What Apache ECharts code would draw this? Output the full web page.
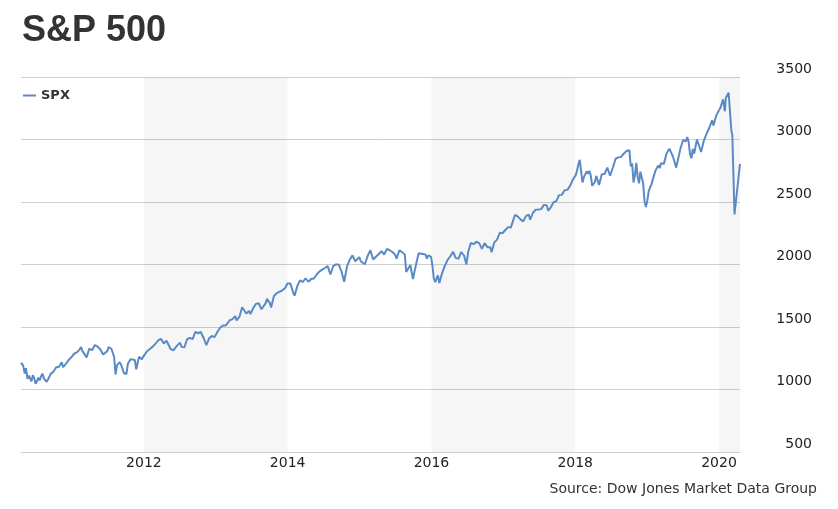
<!DOCTYPE html>
<html><head><meta charset="utf-8">
<script src="https://cdn.jsdelivr.net/npm/echarts@6/dist/echarts.min.js"></script>
<style>html,body{margin:0;padding:0;background:#fff}#c{width:838px;height:509px}</style>
</head><body><div id="c"></div>
<script>
const chartTitle = 'S&P 500';
const seriesName = 'SPX';
const sourceNote = 'Source: Dow Jones Market Data Group';
const rangeStart = '2010-04-17';
const rangeEnd = '2020-04-17';
const xLabelYears = [2012, 2014, 2016, 2018, 2020];
const shadedBands = [[2012, 2014], [2016, 2018], [2020, null]];

const dates = [
 '2010-04-17','2010-04-28','2010-05-06','2010-05-12','2010-05-20','2010-05-27','2010-06-02','2010-06-09','2010-06-16','2010-06-23','2010-06-30','2010-07-07','2010-07-14','2010-07-21','2010-07-28','2010-08-04','2010-08-11','2010-08-18','2010-08-25','2010-09-01','2010-09-15','2010-09-29','2010-10-13','2010-10-27','2010-11-10','2010-11-17','2010-12-01','2010-12-15','2010-12-29',
 '2011-01-12','2011-01-26','2011-02-09','2011-02-16','2011-02-23','2011-03-02','2011-03-16','2011-03-30','2011-04-13','2011-04-27','2011-05-11','2011-05-25','2011-06-08','2011-06-15','2011-06-29','2011-07-06','2011-07-20','2011-08-03','2011-08-10','2011-08-17','2011-08-24','2011-08-31','2011-09-07','2011-09-22','2011-10-04','2011-10-12','2011-10-26','2011-11-02','2011-11-16','2011-11-23','2011-12-07','2011-12-21',
 '2012-01-04','2012-01-18','2012-02-01','2012-02-15','2012-02-29','2012-03-14','2012-03-28','2012-04-11','2012-04-25','2012-05-02','2012-05-16','2012-05-30','2012-06-06','2012-06-20','2012-07-03','2012-07-11','2012-07-25','2012-08-08','2012-08-22','2012-09-05','2012-09-19','2012-10-03','2012-10-17','2012-10-31','2012-11-14','2012-11-28','2012-12-12','2012-12-26',
 '2013-01-09','2013-01-23','2013-02-06','2013-02-20','2013-03-13','2013-03-27','2013-04-10','2013-04-17','2013-05-01','2013-05-15','2013-05-22','2013-06-05','2013-06-19','2013-06-26','2013-07-10','2013-07-24','2013-08-07','2013-08-21','2013-08-28','2013-09-11','2013-09-18','2013-10-02','2013-10-09','2013-10-23','2013-11-06','2013-11-20','2013-12-04','2013-12-18','2013-12-31',
 '2014-01-15','2014-01-29','2014-02-05','2014-02-19','2014-03-05','2014-03-19','2014-04-02','2014-04-16','2014-04-30','2014-05-14','2014-05-28','2014-06-11','2014-06-25','2014-07-09','2014-07-23','2014-08-06','2014-08-20','2014-09-03','2014-09-17','2014-10-01','2014-10-15','2014-10-29','2014-11-12','2014-11-26','2014-12-10','2014-12-17','2014-12-31',
 '2015-01-07','2015-01-14','2015-01-28','2015-02-11','2015-02-25','2015-03-11','2015-03-25','2015-04-08','2015-04-22','2015-05-06','2015-05-20','2015-06-03','2015-06-17','2015-07-01','2015-07-08','2015-07-22','2015-08-05','2015-08-19','2015-08-26','2015-09-02','2015-09-16','2015-09-29','2015-10-14','2015-10-28','2015-11-04','2015-11-18','2015-12-02','2015-12-09','2015-12-16','2015-12-30',
 '2016-01-06','2016-01-13','2016-01-20','2016-02-03','2016-02-10','2016-02-24','2016-03-09','2016-03-23','2016-04-06','2016-04-20','2016-05-04','2016-05-18','2016-06-01','2016-06-15','2016-06-27','2016-07-06','2016-07-20','2016-08-03','2016-08-17','2016-08-31','2016-09-14','2016-09-28','2016-10-12','2016-10-26','2016-11-02','2016-11-16','2016-11-30','2016-12-14','2016-12-28',
 '2017-01-11','2017-01-25','2017-02-08','2017-02-22','2017-03-01','2017-03-15','2017-03-29','2017-04-12','2017-04-26','2017-05-10','2017-05-17','2017-05-31','2017-06-14','2017-06-28','2017-07-12','2017-07-26','2017-08-09','2017-08-17','2017-08-30','2017-09-13','2017-09-27','2017-10-11','2017-10-25','2017-11-08','2017-11-22','2017-12-06','2017-12-20',
 '2018-01-03','2018-01-10','2018-01-17','2018-01-24','2018-01-31','2018-02-07','2018-02-14','2018-02-21','2018-02-28','2018-03-07','2018-03-14','2018-03-21','2018-03-28','2018-04-04','2018-04-11','2018-04-18','2018-05-02','2018-05-16','2018-05-30','2018-06-13','2018-06-27','2018-07-11','2018-07-25','2018-08-08','2018-08-22','2018-09-05','2018-09-19','2018-10-03','2018-10-10','2018-10-17','2018-10-24','2018-10-31','2018-11-07','2018-11-14','2018-11-21','2018-11-28','2018-12-04','2018-12-12','2018-12-19','2018-12-26',
 '2019-01-02','2019-01-09','2019-01-16','2019-01-23','2019-01-30','2019-02-13','2019-02-27','2019-03-06','2019-03-13','2019-03-20','2019-03-27','2019-04-10','2019-04-24','2019-05-01','2019-05-08','2019-05-15','2019-05-29','2019-06-05','2019-06-19','2019-07-03','2019-07-17','2019-07-24','2019-07-31','2019-08-07','2019-08-14','2019-08-21','2019-08-28','2019-09-11','2019-09-18','2019-10-02','2019-10-16','2019-10-30','2019-11-13','2019-11-27','2019-12-04','2019-12-18','2019-12-31',
 '2020-01-08','2020-01-22','2020-01-31','2020-02-05','2020-02-19','2020-03-04','2020-03-09','2020-03-20','2020-04-17'
];

const spx = [
 1215,1191,1128,1171,1085,1110,1098,1066,1115,1092,1045,1066,1095,1072,1107,1127,1089,1094,1062,1080,1125,1144,1178,1182,1218,1178,1206,1236,1259,
 1286,1297,1321,1340,1307,1308,1257,1328,1314,1356,1343,1320,1280,1266,1307,1339,1326,1260,1120,1193,1177,1219,1199,1130,1124,1208,1243,1238,1236,1161,1261,1243,
 1277,1308,1324,1343,1366,1394,1405,1368,1390,1402,1324,1313,1315,1355,1374,1341,1337,1402,1413,1403,1461,1450,1460,1412,1355,1409,1428,1419,
 1461,1494,1512,1511,1554,1563,1587,1552,1582,1658,1655,1608,1628,1603,1652,1685,1690,1642,1634,1689,1725,1693,1656,1746,1771,1781,1792,1810,1848,
 1848,1774,1751,1828,1873,1860,1890,1862,1884,1888,1920,1943,1959,1972,1987,1920,1986,2001,2001,1946,1862,1982,2038,2073,2026,2012,2059,
 2026,2011,2002,2068,2114,2040,2062,2082,2107,2080,2125,2114,2100,2077,2046,2114,2099,2079,1940,1948,1996,1884,1995,2090,2102,2084,2080,2047,2073,2063,
 1990,1890,1859,1912,1852,1929,1989,2036,2066,2102,2051,2047,2100,2072,2001,2100,2173,2163,2182,2171,2125,2171,2139,2139,2098,2177,2199,2254,2250,
 2276,2299,2295,2363,2396,2385,2361,2345,2387,2400,2357,2412,2438,2440,2443,2477,2474,2430,2457,2498,2507,2555,2557,2594,2597,2629,2679,
 2713,2748,2802,2837,2824,2655,2699,2701,2745,2727,2749,2711,2630,2644,2660,2709,2636,2722,2724,2775,2710,2774,2846,2857,2861,2888,2908,2915,2785,2809,2656,2711,2813,2701,2649,2743,2700,2651,2507,2460,
 2510,2585,2616,2639,2681,2753,2792,2771,2811,2824,2805,2888,2927,2924,2879,2850,2775,2826,2926,2996,2985,3019,2980,2883,2850,2924,2887,3000,3006,2900,2990,3046,3094,3153,3112,3191,3231,
 3253,3321,3226,3334,3375,3070,3035,2400,2805
];

function toYear(s) {
  const p = s.split('-').map(Number);
  const t = Date.UTC(p[0], p[1] - 1, p[2]);
  const a = Date.UTC(p[0], 0, 1), b = Date.UTC(p[0] + 1, 0, 1);
  return p[0] + (t - a) / (b - a);
}

const xMin = toYear(rangeStart), xMax = toYear(rangeEnd);
const seriesData = dates.map((d, i) => [toYear(d), spx[i]]);
const bandData = shadedBands.map(b => [{ xAxis: b[0] }, { xAxis: b[1] === null ? xMax : b[1] }]);

const chart = echarts.init(document.getElementById('c'), null, { renderer: 'canvas' });
chart.setOption({
  animation: false,
  title: {
    text: chartTitle, left: 17, top: 8,
    textStyle: { fontFamily: 'Liberation Sans', fontSize: 36, fontWeight: 'bold', color: '#333' }
  },
  legend: {
    data: [{ name: seriesName, icon: 'rect' }],
    left: 18, top: 84, itemWidth: 13, itemHeight: 2, itemGap: 6,
    textStyle: { fontSize: 13, fontWeight: 'bold', color: '#333', fontFamily: 'DejaVu Sans' }
  },
  grid: { left: 21, right: 98, top: 77, bottom: 57 },
  xAxis: {
    type: 'value', min: xMin, max: xMax,
    splitLine: { show: false },
    axisTick: { show: false },
    axisLine: { lineStyle: { color: '#cccccc' } },
    axisLabel: {
      customValues: xLabelYears,
      formatter: v => String(Math.round(v)),
      margin: 4, fontSize: 14, color: '#222', fontFamily: 'DejaVu Sans'
    }
  },
  yAxis: {
    type: 'value', position: 'right', min: 500, max: 3500, interval: 500,
    axisLine: { show: false }, axisTick: { show: false },
    splitLine: { lineStyle: { color: '#d0d0d0' } },
    axisLabel: {
      formatter: v => String(v),
      align: 'right', margin: 72, verticalAlign: 'bottom', padding: [0, 0, 1, 0],
      fontSize: 14, color: '#222', fontFamily: 'DejaVu Sans'
    }
  },
  graphic: [{
    type: 'text', right: 21, top: 482,
    style: { text: sourceNote, font: '14px "DejaVu Sans"', fill: '#333' }
  }],
  series: [{
    name: seriesName, type: 'line', data: seriesData, showSymbol: false,
    lineStyle: { width: 2, color: '#5a8ac6' }, itemStyle: { color: '#5a8ac6' },
    markArea: { silent: true, itemStyle: { color: 'rgba(0,0,0,0.035)' }, data: bandData }
  }]
});
</script>
</body></html>
